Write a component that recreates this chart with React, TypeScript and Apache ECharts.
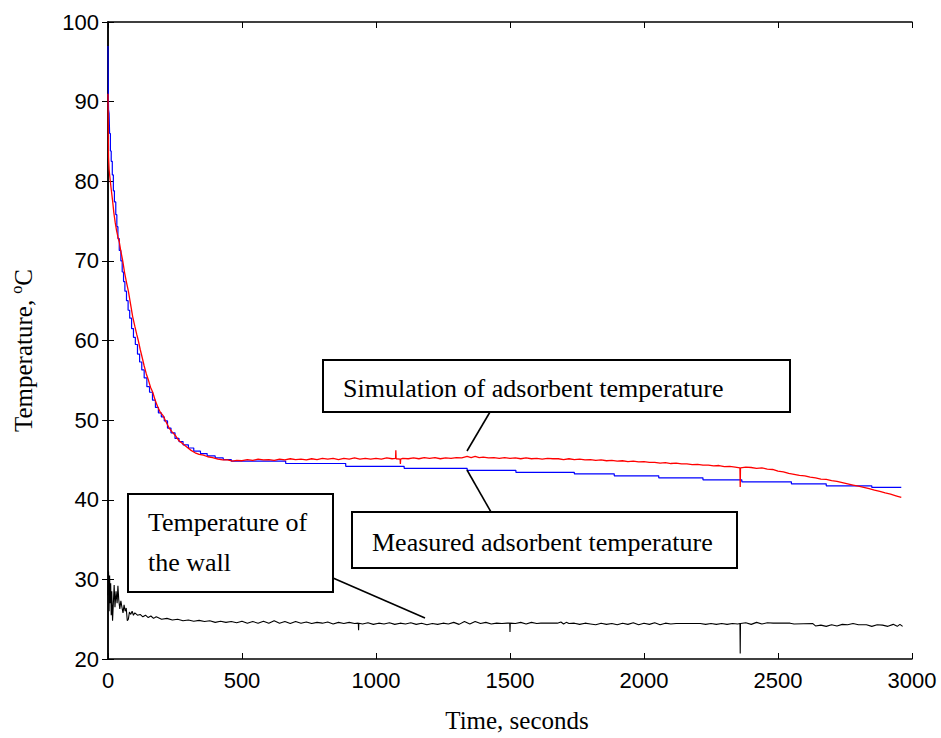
import React, { useEffect, useRef } from "react";
import * as echarts from "echarts";

const xTicks = [0, 500, 1000, 1500, 2000, 2500, 3000];
const yTicks = [20, 30, 40, 50, 60, 70, 80, 90, 100];

const simulated: [number, number][] = [
  [0, 91], [1, 86], [2, 83], [4, 81.5], [8, 80.2], [12, 79], [17, 77.6], [22, 76], [27, 74.8], [32, 73.8],
  [37, 73], [42, 72.4], [48, 71.2], [55, 70], [62, 68.5], [69, 67.3], [76, 66.2], [84, 64.6], [92, 63],
  [100, 61.8], [107, 60.8], [113, 60], [120, 58.9], [128, 57.8], [135, 56.8], [143, 55.8], [151, 55],
  [159, 54.1], [167, 53.5], [176, 52.5], [185, 51.7], [195, 51], [205, 50.6], [215, 49.9], [228, 49.0],
  [240, 48.5], [253, 48], [265, 47.4], [280, 47], [295, 46.6], [310, 46.2], [325, 45.9], [340, 45.7],
  [356, 45.6], [372, 45.4], [390, 45.3], [410, 45.1], [428, 45.0], [446, 45.0], [465, 44.85], [480, 44.95],
  [500, 44.9], [520, 45.05], [540, 44.95], [560, 45.1], [580, 45.0], [600, 45.05], [620, 44.95], [640, 45.1],
  [660, 45.0], [680, 45.15], [700, 45.05], [720, 45.1], [740, 45.0], [760, 45.15], [780, 45.05], [800, 45.2],
  [820, 45.1], [840, 45.2], [860, 45.05], [880, 45.2], [900, 45.1], [920, 45.25], [940, 45.1], [960, 45.2],
  [980, 45.1], [1000, 45.2], [1020, 45.1], [1040, 45.25], [1060, 45.15], [1073, 45.2], [1074, 46.2], [1075, 45.15],
  [1090, 45.1], [1091, 44.5], [1092, 45.1], [1100, 45.2], [1120, 45.15], [1140, 45.25], [1160, 45.15], [1180, 45.3],
  [1200, 45.2], [1220, 45.3], [1240, 45.15], [1260, 45.25], [1280, 45.2], [1300, 45.3], [1320, 45.25],
  [1340, 45.45], [1355, 45.3], [1370, 45.45], [1385, 45.3], [1400, 45.35], [1420, 45.25], [1440, 45.3],
  [1460, 45.2], [1480, 45.3], [1500, 45.2], [1520, 45.25], [1540, 45.15], [1560, 45.25], [1580, 45.15],
  [1600, 45.2], [1620, 45.1], [1640, 45.2], [1660, 45.15], [1680, 45.15], [1700, 45.05], [1720, 45.15],
  [1740, 45.05], [1760, 45.1], [1780, 45.0], [1800, 45.05], [1820, 44.95], [1840, 45.0], [1860, 44.9],
  [1880, 44.95], [1900, 44.85], [1920, 44.9], [1940, 44.8], [1960, 44.85], [1980, 44.75], [2000, 44.8],
  [2020, 44.7], [2040, 44.7], [2060, 44.6], [2080, 44.65], [2100, 44.55], [2120, 44.6], [2140, 44.5],
  [2160, 44.5], [2180, 44.4], [2200, 44.45], [2220, 44.35], [2240, 44.35], [2260, 44.25], [2280, 44.3],
  [2300, 44.15], [2320, 44.2], [2340, 44.1], [2358, 44.0], [2359, 41.6], [2360, 44.0], [2380, 44.1],
  [2400, 44.05], [2420, 43.95], [2440, 44.0], [2460, 43.85], [2480, 43.8], [2500, 43.6], [2520, 43.5],
  [2540, 43.3], [2560, 43.2], [2580, 43.05], [2600, 43.0], [2620, 42.85], [2640, 42.75], [2660, 42.6],
  [2680, 42.55], [2700, 42.4], [2720, 42.3], [2740, 42.15], [2760, 42.0], [2780, 41.85], [2800, 41.7],
  [2820, 41.55], [2840, 41.4], [2860, 41.2], [2880, 41.05], [2900, 40.85], [2920, 40.7], [2940, 40.5],
  [2960, 40.3],
];

const measured: [number, number][] = [
  [0, 97], [1, 92], [2, 89], [4, 88.5], [6, 86], [9, 83.8], [12, 82.5], [16, 80.8], [20, 78.8], [24, 77.4],
  [29, 75.8], [33, 74.3], [37, 72.8], [42, 71.3], [48, 70], [53, 68.6], [58, 67.4], [63, 66.2], [69, 65],
  [75, 63.8], [81, 62.8], [88, 61.5], [95, 60.4], [102, 59.5], [110, 58.3], [118, 57.3], [126, 56.3],
  [135, 55.3], [145, 54.2], [155, 53.5], [166, 52.5], [177, 51.6], [188, 50.9], [199, 50.4], [210, 49.9],
  [222, 49.0], [235, 48.4], [250, 47.7], [265, 47.3], [280, 46.9], [300, 46.5], [320, 46.1], [345, 45.8],
  [370, 45.5], [400, 45.25], [430, 45.05], [460, 44.85], [663, 44.55], [887, 44.2], [1105, 43.95],
  [1340, 43.7], [1522, 43.45], [1740, 43.25], [1889, 43.0], [2055, 42.75], [2220, 42.5], [2365, 42.25],
  [2550, 42.0], [2680, 41.75], [2850, 41.55], [2960, 41.55],
];

const wall: [number, number][] = [
  [0, 28], [2, 31], [4, 26], [6, 30.5], [8, 27], [10, 29.5], [12, 25.5], [14, 28.5], [17, 24.8], [20, 27],
  [23, 29.3], [26, 26.5], [30, 28.5], [34, 27], [37, 29.2], [40, 27.5], [44, 26.3], [48, 27.3], [52, 26.5],
  [56, 25.8], [60, 26.8], [64, 26], [68, 26.4], [72, 24.8], [76, 25.0], [80, 25.9], [85, 25.6], [90, 26.0],
  [95, 25.5], [100, 25.8], [110, 25.5], [120, 25.6], [130, 25.3], [140, 25.5], [150, 25.2], [160, 25.4],
  [170, 25.1], [180, 25.3], [200, 25.0], [220, 25.1], [240, 24.9], [260, 25.0], [280, 24.8], [300, 24.9],
  [320, 24.75], [340, 24.85], [360, 24.7], [380, 24.8], [400, 24.6], [420, 24.75], [440, 24.6], [460, 24.7],
  [480, 24.55], [500, 24.75], [520, 24.5], [540, 24.7], [560, 24.5], [580, 24.75], [600, 24.5], [620, 24.8],
  [640, 24.5], [660, 24.7], [680, 24.45], [700, 24.7], [720, 24.5], [740, 24.65], [760, 24.45], [780, 24.6],
  [800, 24.5], [820, 24.65], [840, 24.4], [860, 24.6], [880, 24.45], [900, 24.6], [920, 24.45], [934, 24.5],
  [935, 23.6], [936, 24.5], [950, 24.4], [970, 24.55], [990, 24.35], [1010, 24.5], [1030, 24.4], [1050, 24.55],
  [1070, 24.35], [1090, 24.5], [1110, 24.4], [1130, 24.55], [1150, 24.35], [1170, 24.5], [1190, 24.3],
  [1210, 24.45], [1230, 24.35], [1250, 24.5], [1270, 24.4], [1290, 24.6], [1310, 24.35], [1330, 24.7],
  [1350, 24.4], [1370, 24.7], [1390, 24.45], [1410, 24.6], [1430, 24.4], [1450, 24.5], [1470, 24.45],
  [1490, 24.5], [1499, 24.5], [1500, 23.4], [1501, 24.5], [1520, 24.45], [1540, 24.6], [1560, 24.4],
  [1580, 24.6], [1600, 24.45], [1615, 24.5], [1677, 24.5], [1690, 24.65], [1700, 24.4], [1710, 24.6],
  [1720, 24.45], [1740, 24.5], [1760, 24.35], [1780, 24.5], [1800, 24.4], [1820, 24.3], [1840, 24.5],
  [1860, 24.35], [1880, 24.45], [1900, 24.3], [1920, 24.5], [1940, 24.35], [1960, 24.55], [1980, 24.3],
  [2000, 24.5], [2020, 24.35], [2040, 24.55], [2060, 24.3], [2080, 24.5], [2100, 24.4], [2120, 24.45],
  [2210, 24.45], [2230, 24.35], [2250, 24.45], [2270, 24.35], [2290, 24.45], [2310, 24.35], [2330, 24.45],
  [2350, 24.4], [2358, 24.45], [2359, 20.7], [2360, 24.45], [2380, 24.55], [2400, 24.35], [2420, 24.6],
  [2440, 24.4], [2460, 24.55], [2482, 24.5], [2545, 24.5], [2560, 24.4], [2630, 24.45], [2640, 24.15],
  [2660, 24.25], [2680, 24.1], [2700, 24.3], [2720, 24.15], [2740, 24.35], [2760, 24.3], [2780, 24.45],
  [2800, 24.3], [2830, 24.3], [2850, 24.1], [2870, 24.3], [2890, 24.25], [2910, 24.1], [2930, 24.35],
  [2945, 24.1], [2955, 24.35], [2965, 24.1],
];

const labelSim = "Simulation of adsorbent temperature";
const labelMeas = "Measured adsorbent temperature";
const labelWall1 = "Temperature of";
const labelWall2 = "the wall";

const SERIF = '"Liberation Serif", "Times New Roman", serif';
const SANS = '"Liberation Sans", Arial, sans-serif';

export default function App() {
  const ref = useRef<HTMLDivElement>(null);
  useEffect(() => {
    if (!ref.current) return;
    const chart = echarts.init(ref.current, null, { renderer: "svg" });
    const axisLine = { show: true, lineStyle: { color: "#000", width: 1.5 } };
    const tick = { show: true, inside: true, length: 6, lineStyle: { color: "#000", width: 1 } };
    const xMin = xTicks[0];
    const xMax = xTicks[xTicks.length - 1];
    const yMin = yTicks[0];
    const yMax = yTicks[yTicks.length - 1];
    const box = (x: number, y: number, w: number, h: number) => ({
      type: "rect",
      shape: { x, y, width: w, height: h },
      style: { fill: "#fff", stroke: "#000", lineWidth: 2 },
      z: 10,
    });
    const txt = (text: string, x: number, y: number) => ({
      type: "text",
      x,
      y,
      style: {
        text,
        fill: "#000",
        fontFamily: SERIF,
        fontSize: 26,
        textAlign: "left",
        textVerticalAlign: "middle",
      },
      z: 11,
    });
    const ln = (x1: number, y1: number, x2: number, y2: number) => ({
      type: "line",
      shape: { x1, y1, x2, y2 },
      style: { stroke: "#000", lineWidth: 1.6 },
      z: 9,
    });
    chart.setOption({
      animation: false,
      backgroundColor: "#fff",
      grid: { left: 107, right: 29, top: 22, bottom: 79, containLabel: false },
      xAxis: [
        {
          type: "value",
          min: xMin,
          max: xMax,
          interval: 500,
          axisLine,
          axisTick: tick,
          splitLine: { show: false },
          axisLabel: {
            color: "#000",
            fontFamily: SANS,
            fontSize: 22,
            margin: 10,
            formatter: (v: number) => String(v),
          },
          name: "Time, seconds",
          nameLocation: "middle",
          nameGap: 49,
          nameTextStyle: { color: "#000", fontFamily: SERIF, fontSize: 25, padding: [0, 0, 0, 14] },
        },
        {
          type: "value",
          position: "top",
          min: xMin,
          max: xMax,
          interval: 500,
          axisLine,
          axisTick: tick,
          splitLine: { show: false },
          axisLabel: { show: false },
        },
      ],
      yAxis: [
        {
          type: "value",
          min: yMin,
          max: yMax,
          interval: 10,
          axisLine,
          axisTick: tick,
          splitLine: { show: false },
          axisLabel: { color: "#000", fontFamily: SANS, fontSize: 22, margin: 9 },
          name: "{a|Temperature, }{s|o}{a|C}",
          nameLocation: "middle",
          nameGap: 70,
          nameTextStyle: {
            color: "#000",
            fontFamily: SERIF,
            fontSize: 25,
            padding: [0, 20, 0, 0],
            rich: {
              a: { fontFamily: SERIF, fontSize: 25, color: "#000" },
              s: { fontFamily: SERIF, fontSize: 16, color: "#000", padding: [0, 0, 14, 0] },
            },
          },
        },
        {
          type: "value",
          position: "right",
          min: yMin,
          max: yMax,
          interval: 10,
          axisLine,
          axisTick: tick,
          splitLine: { show: false },
          axisLabel: { show: false },
        },
      ],
      series: [
        {
          type: "line",
          name: "Measured",
          data: measured,
          step: "end",
          showSymbol: false,
          lineStyle: { color: "#0000ff", width: 1.2 },
          z: 3,
        },
        {
          type: "line",
          name: "Simulation",
          data: simulated,
          showSymbol: false,
          lineStyle: { color: "#ff0000", width: 1.3 },
          z: 4,
        },
        {
          type: "line",
          name: "Wall",
          data: wall,
          showSymbol: false,
          lineStyle: { color: "#000", width: 1.1 },
          z: 3,
        },
      ],
      graphic: [
        ln(490, 412, 467, 451),
        ln(491, 512, 467, 470),
        ln(333, 578, 425, 618),
        box(323, 360, 467, 52),
        txt(labelSim, 343, 388),
        box(352, 512, 385, 56),
        txt(labelMeas, 372, 542),
        box(128, 494, 205, 98),
        txt(labelWall1, 148, 522),
        txt(labelWall2, 148, 562),
      ],
    });
    return () => chart.dispose();
  }, []);
  return (
    <div
      ref={ref}
      style={{ position: "absolute", left: 0, top: 0, width: 941, height: 738, background: "#fff" }}
    />
  );
}
